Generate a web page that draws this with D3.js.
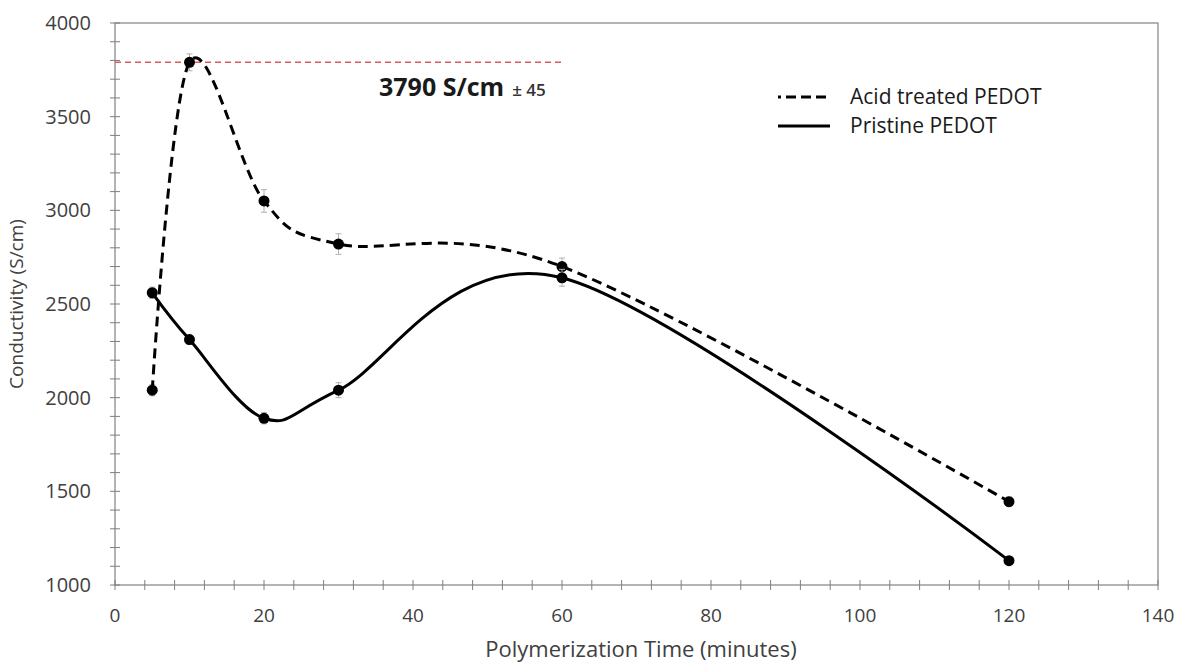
<!DOCTYPE html>
<html>
<head>
<meta charset="utf-8">
<script src="https://cdn.jsdelivr.net/npm/d3@7"></script>
<style>
  html, body { margin: 0; padding: 0; background: #fff; }
  svg { display: block; font-family: "Open Sans", Lato, sans-serif; }
</style>
</head>
<body>
<svg id="chart" width="1189" height="664"></svg>
<script>
// Polymerization time (minutes)
const times = [5, 10, 20, 30, 60, 120];
// Conductivity (S/cm)
const acidValues = [2040, 3790, 3050, 2820, 2700, 1445];
const acidErrors = [30, 45, 60, 55, 45, 25];
const pristineValues = [2560, 2310, 1890, 2040, 2640, 1130];
const pristineErrors = [30, 25, 30, 40, 45, 20];

const xTicks = [0, 20, 40, 60, 80, 100, 120, 140];
const yTicks = [1000, 1500, 2000, 2500, 3000, 3500, 4000];
const peakValue = 3790;
const peakEndTime = 60;

const svg = d3.select("#chart");
const plotLeft = 115, plotRight = 1158, plotTop = 23, plotBottom = 585;

const x = d3.scaleLinear().domain([0, 140]).range([plotLeft, plotRight]);
const y = d3.scaleLinear().domain([1000, 4000]).range([plotBottom, plotTop]);

const axisColor = "#7f7f7f";
const textColor = "#404040";

// frame
svg.append("rect")
  .attr("x", plotLeft).attr("y", plotTop)
  .attr("width", plotRight - plotLeft).attr("height", plotBottom - plotTop)
  .attr("fill", "none").attr("stroke", "#8c8c8c").attr("stroke-width", 1.3);

// minor ticks crossing the axes
const yMinor = d3.range(1000, 4001, 100);
svg.append("g").selectAll("line").data(yMinor).join("line")
  .attr("x1", plotLeft - 5).attr("x2", plotLeft + 5)
  .attr("y1", d => y(d)).attr("y2", d => y(d))
  .attr("stroke", axisColor).attr("stroke-width", 1);

const xMinor = d3.range(0, 141, 4);
svg.append("g").selectAll("line").data(xMinor).join("line")
  .attr("x1", d => x(d)).attr("x2", d => x(d))
  .attr("y1", plotBottom - 5).attr("y2", plotBottom + 5)
  .attr("stroke", axisColor).attr("stroke-width", 1);

// tick labels
svg.append("g").selectAll("text").data(yTicks).join("text")
  .attr("x", plotLeft - 24).attr("y", d => y(d))
  .attr("dy", "0.35em").attr("text-anchor", "end")
  .attr("font-size", 20).attr("fill", textColor)
  .text(d => d);

svg.append("g").selectAll("text").data(xTicks).join("text")
  .attr("x", d => x(d)).attr("y", plotBottom + 37)
  .attr("text-anchor", "middle")
  .attr("font-size", 19).attr("fill", textColor)
  .text(d => d);

// axis titles
svg.append("text")
  .attr("transform", `translate(23, ${(plotTop + plotBottom) / 2}) rotate(-90)`)
  .attr("text-anchor", "middle").attr("font-size", 19).attr("fill", textColor)
  .text("Conductivity (S/cm)");

svg.append("text")
  .attr("x", 641).attr("y", 657)
  .attr("text-anchor", "middle").attr("font-size", 22).attr("fill", textColor)
  .text("Polymerization Time (minutes)");

// reference line at peak conductivity
svg.append("line")
  .attr("x1", x(0)).attr("x2", x(peakEndTime))
  .attr("y1", y(peakValue)).attr("y2", y(peakValue))
  .attr("stroke", "#dd5a5a").attr("stroke-width", 1.5)
  .attr("stroke-dasharray", "6,4");

const peakLabel = svg.append("text")
  .attr("x", 379).attr("y", 96)
  .attr("fill", "#1a1a1a");
peakLabel.append("tspan").attr("font-size", 25).attr("font-weight", "bold").text("3790 S/cm");
peakLabel.append("tspan").attr("font-size", 17).attr("dx", 8).attr("font-weight", "600").attr("fill", "#333").text("± 45");

// series
const series = [
  { name: "Acid treated PEDOT", values: acidValues, errors: acidErrors, dash: "10,6", legendDash: "3,5,10,5,10,5,10,5,10" },
  { name: "Pristine PEDOT", values: pristineValues, errors: pristineErrors, dash: null, legendDash: null }
];

const line = d3.line()
  .x(d => x(d[0])).y(d => y(d[1]))
  .curve(d3.curveCardinal.tension(0));

series.forEach(s => {
  const pts = times.map((t, i) => [t, s.values[i], s.errors[i]]);
  const g = svg.append("g");
  // error bars
  g.selectAll("line.err").data(pts).join("line")
    .attr("class", "err")
    .attr("x1", d => x(d[0])).attr("x2", d => x(d[0]))
    .attr("y1", d => y(d[1] - d[2])).attr("y2", d => y(d[1] + d[2]))
    .attr("stroke", "#b0b0b0").attr("stroke-width", 1);
  g.selectAll("line.cap").data(pts.flatMap(d => [[d[0], d[1] - d[2]], [d[0], d[1] + d[2]]])).join("line")
    .attr("class", "cap")
    .attr("x1", d => x(d[0]) - 3).attr("x2", d => x(d[0]) + 3)
    .attr("y1", d => y(d[1])).attr("y2", d => y(d[1]))
    .attr("stroke", "#b0b0b0").attr("stroke-width", 1);
  g.append("path")
    .datum(pts)
    .attr("d", line)
    .attr("fill", "none").attr("stroke", "#000").attr("stroke-width", 3)
    .attr("stroke-dasharray", s.dash);
  g.selectAll("circle").data(pts).join("circle")
    .attr("cx", d => x(d[0])).attr("cy", d => y(d[1]))
    .attr("r", 5.5).attr("fill", "#000");
});

// legend
const legend = svg.append("g");
series.forEach((s, i) => {
  const ly = 97 + i * 29;
  legend.append("line")
    .attr("x1", 778).attr("x2", 830).attr("y1", ly).attr("y2", ly)
    .attr("stroke", "#000").attr("stroke-width", 3)
    .attr("stroke-dasharray", s.legendDash);
  legend.append("text")
    .attr("x", 850).attr("y", ly).attr("dy", "0.35em")
    .attr("font-size", 21).attr("fill", "#1a1a1a")
    .text(s.name);
});
</script>
</body>
</html>
